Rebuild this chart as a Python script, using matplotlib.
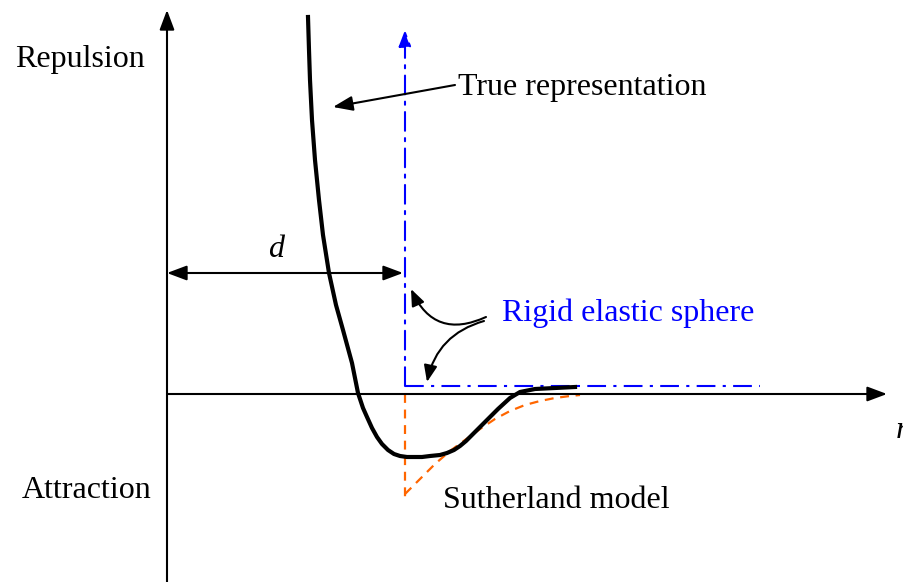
import matplotlib.pyplot as plt
import numpy as np

# hand-read points of the sketch (pixel space of the 904x582 picture)
true_x = [308, 309, 310, 312, 315, 319, 323, 329, 336, 343, 352, 358, 363, 367, 372, 377, 382, 388, 394, 400, 407, 413, 422, 430, 440, 447, 454, 460, 466, 472, 485, 498, 510, 520, 535, 555, 575]
true_y = [17, 50, 80, 120, 160, 200, 235, 273, 305, 330, 363, 393, 408, 417, 428, 437, 444, 450, 454, 456, 457, 457, 457, 456, 455, 453, 450, 446, 441, 435, 422, 409, 398, 392, 389, 388, 387]
suth_x = [405, 420, 435, 450, 465, 480, 495, 510, 525, 540, 555, 570, 580]
suth_y = [494, 479, 464, 451, 440, 429, 419, 411, 405, 401, 398, 396, 395]

plt.rcParams['font.family'] = ['Liberation Serif', 'DejaVu Serif']
fig = plt.figure(figsize=(9.04, 5.82), dpi=100)
ax = fig.add_axes([0, 0, 1, 1])
ax.set_xlim(0, 904)
ax.set_ylim(582, 0)
ax.axis('off')

fs = 23
ah = dict(arrowstyle='-|>,head_length=1.2,head_width=0.45', color='black', lw=1.5, shrinkA=0, shrinkB=0)

# axes
ax.annotate('', xy=(167, 10), xytext=(167, 582), arrowprops=ah)
ax.annotate('', xy=(887, 394), xytext=(167, 394), arrowprops=ah)

# rigid sphere
ax.plot([405, 760], [386, 386], color='blue', lw=1.5, ls=(0, (9, 3.5, 1.5, 3.5)))
ax.annotate('', xy=(405, 30), xytext=(405, 386),
            arrowprops=dict(arrowstyle='-|>,head_length=1.0,head_width=0.38', color='blue', lw=1.5,
                            ls=(0, (9, 3.5, 1.5, 3.5)), shrinkA=0, shrinkB=0))

# sutherland
ax.plot([405, 405], [394, 500], color='#ff6600', lw=1.6, ls=(0, (4, 3)))
ax.plot(suth_x, suth_y, color='#ff6600', lw=1.6, ls=(0, (4, 3)))

# true curve
ax.plot(true_x, true_y, color='black', lw=3, solid_joinstyle='round')

# d
ax.annotate('', xy=(167, 273), xytext=(403, 273),
            arrowprops=dict(arrowstyle='<|-|>,head_length=1.2,head_width=0.45', color='black', lw=1.5,
                            shrinkA=0, shrinkB=0))
ax.text(276, 264, 'd', fontsize=fs, style='italic', ha='center', va='bottom')

# labels
ax.text(15, 59, 'Repulsion', fontsize=fs, va='center', ha='left')
ax.text(22, 491, 'Attraction', fontsize=fs, va='center', ha='left')
ax.text(458, 87, 'True representation', fontsize=fs, va='center', ha='left')
ax.text(502, 313, 'Rigid elastic sphere', fontsize=fs, va='center', ha='left', color='blue')
ax.text(443, 501, 'Sutherland model', fontsize=fs, va='center', ha='left')
ax.text(896, 430, 'r', fontsize=fs, style='italic', va='center', ha='left')

ax.annotate('', xy=(333, 107), xytext=(455, 85), arrowprops=ah)
ax.annotate('', xy=(411, 289), xytext=(486, 317),
            arrowprops=dict(arrowstyle='-|>,head_length=1.0,head_width=0.4', color='black', lw=1.5,
                            shrinkA=0, shrinkB=0, connectionstyle='arc3,rad=-0.5'))
ax.annotate('', xy=(427, 382), xytext=(484, 321),
            arrowprops=dict(arrowstyle='-|>,head_length=1.0,head_width=0.4', color='black', lw=1.5,
                            shrinkA=0, shrinkB=0, connectionstyle='arc3,rad=0.3'))

fig.savefig('out.png', dpi=100)
